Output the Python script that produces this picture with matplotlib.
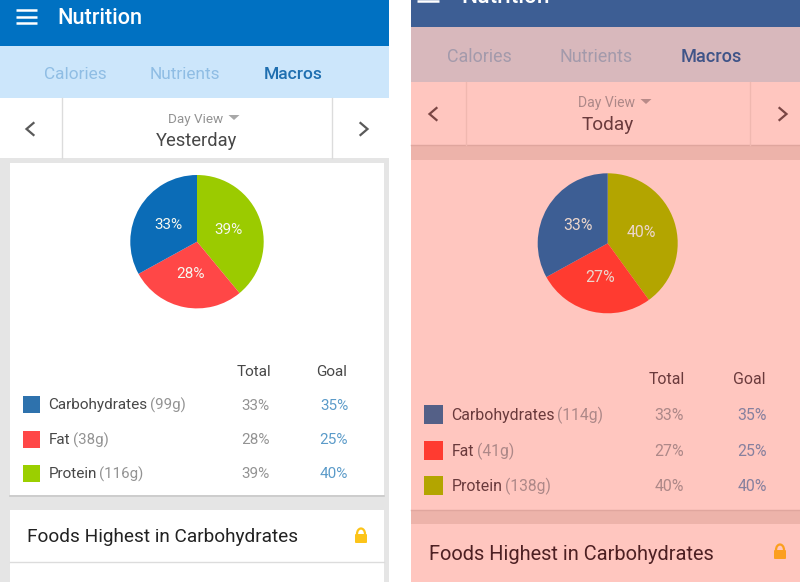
"""Two Nutrition app screens side by side, macros pie and table."""
import matplotlib
matplotlib.use("Agg")
import matplotlib.pyplot as plt
from matplotlib.patches import Rectangle, Polygon, FancyBboxPatch, Arc

plt.rcParams["font.family"] = ["Roboto", "DejaVu Sans"]

TABS = ["Calories", "Nutrients", "Macros"]
NUTRIENTS = ["Carbohydrates", "Fat", "Protein"]

# left screen
DAY_L = "Yesterday"
GRAMS_L = ["(99g)", "(38g)", "(116g)"]
TOTAL_L = [33, 28, 39]
GOAL_L = [35, 25, 40]

# right screen
DAY_R = "Today"
GRAMS_R = ["(114g)", "(41g)", "(138g)"]
TOTAL_R = [33, 27, 40]
GOAL_R = [35, 25, 40]

LEFT = dict(
    x0=0, x1=389, head=46, tabs=98, nav=158, card=163, card_end=495, next_card=510, rule=562,
    c_head="#0071c2", c_tabs="#cce6fb", c_nav="#ffffff", c_band="#e5e5e5", c_card="#ffffff",
    c_line="#dcdcdc", c_tab_off="#8fbde4", c_tab_on="#1f6fb0", c_dark="#474747", c_mid="#939393",
    c_goal="#5b9bc9", c_title="#222222", c_chev="#5a5a5a", c_lock="#fcc419", c_tri="#a8a8a8",
    c_sw=["#2e72ad", "#ff4747", "#9bcf00"], c_pie=["#0b6cb7", "#ff4747", "#9bcb00"],
    c_pie_txt="#f6f8f0",
    title_xy=(57, 17), ham=(16, 37, [9.5, 16.5, 23]), tab_x=[75, 185, 293.5], tab_y=73,
    mid=197, dayview_y=118, tri_x=234, day_y=139, div=[62, 332], chev=[30, 364], chev_y=129,
    pie=(197, 241.7, 66.7), sw=(23, 17), rows=[404, 439, 473], text_x=48.5, head_y=370.5,
    tot_x=253.5, goal_x=332, pct_tot=255.5, pct_goal=334, foods=(27, 536), lock=(361, 536),
    fs=1.0, foods_fs=13.65,
)
RIGHT = dict(
    x0=411, x1=800, head=27, tabs=82, nav=145, card=160, card_end=510, next_card=524, rule=582,
    c_head="#3d5e94", c_tabs="#d8b8bc", c_nav="#ffc6bf", c_band="#edb3aa", c_card="#ffc6bf",
    c_line="#f0b8b0", c_tab_off="#a39aab", c_tab_on="#3f5488", c_dark="#6a3a3c", c_mid="#ad8888",
    c_goal="#86809e", c_title="#4d2023", c_chev="#7a4644", c_lock="#fb9f1e", c_tri="#b88a88",
    c_sw=["#546087", "#ff3b30", "#b3a500"], c_pie=["#3d5e94", "#ff3b30", "#b3a500"],
    c_pie_txt="#ecd6cc",
    title_xy=(461, -5), ham=(417, 439, [-6, 0.5]), tab_x=[479, 596, 711], tab_y=55,
    mid=608, dayview_y=102, tri_x=646, day_y=124, div=[465.5, 750], chev=[433, 783], chev_y=114,
    pie=(607.7, 243.3, 70), sw=(424, 19), rows=[414, 450, 485], text_x=451.5, head_y=378,
    tot_x=667, goal_x=749.5, pct_tot=669, pct_goal=752, foods=(429, 553), lock=(780, 552),
    fs=1.04, foods_fs=14.4,
)
TEXT_DY = 1.5  # roboto sits high with va=center

fig = plt.figure(figsize=(8, 5.82), dpi=100, facecolor="white")
ax = fig.add_axes([0, 0, 1, 1])
ax.set_xlim(0, 800)
ax.set_ylim(582, 0)
ax.axis("off")


def block(x0, x1, y0, y1, color, z=1):
    ax.add_patch(Rectangle((x0, y0), x1 - x0, y1 - y0, fc=color, ec="none", zorder=z))


def label(x, y, s, color, size, ha="center", weight="normal"):
    return ax.text(x, y + TEXT_DY, s, color=color, fontsize=size, ha=ha, va="center",
                   fontweight=weight, zorder=3)


def draw_chevron(x, y, direction, color):
    ax.plot([x - 3.5 * direction, x + 3.5 * direction, x - 3.5 * direction], [y - 6, y, y + 6],
            color=color, lw=1.6, zorder=3, solid_joinstyle="miter")


def draw_lock(x, y, color):
    ax.add_patch(FancyBboxPatch((x - 6, y - 2), 12, 9, boxstyle="round,pad=0,rounding_size=1",
                                fc=color, ec="none", zorder=3))
    ax.add_patch(Arc((x, y - 2), 8, 11, theta1=180, theta2=360, color=color, lw=1.6, zorder=3))


def draw_screen(s, day, grams, total, goal):
    x0, x1 = s["x0"], s["x1"]
    fs = s["fs"]
    block(x0, x1, 0, 582, s["c_band"])
    block(x0, x1, 0, s["head"], s["c_head"])
    block(x0, x1, s["head"], s["tabs"], s["c_tabs"])
    block(x0, x1, s["tabs"], s["nav"], s["c_nav"])
    if x0 == 0:
        # cards are inset on this screen only
        block(10, 384, s["card"], s["card_end"], s["c_card"])
        block(10, 384, s["next_card"], 582, s["c_card"])
        ax.plot([10, 384], [s["rule"]] * 2, color=s["c_line"], lw=1, zorder=2)
        ax.plot([10, 384], [s["card_end"] + 0.5] * 2, color="#c9c9c9", lw=1.2, zorder=2)
    else:
        block(x0, x1, s["card"], s["card_end"], s["c_card"])
        block(x0, x1, s["next_card"], 582, s["c_card"])
        ax.plot([x0, x1], [s["card_end"]] * 2, color="#e0a69e", lw=1, zorder=2)
        ax.plot([x0, x1], [s["nav"]] * 2, color="#e0a69e", lw=1, zorder=2)

    for y in s["ham"][2]:
        ax.plot(s["ham"][:2], [y, y], color="white", lw=1.8, zorder=3, solid_capstyle="butt")
    label(*s["title_xy"], "Nutrition", "white", 15.7 * fs, ha="left", weight="medium")

    for i, (name, tx) in enumerate(zip(TABS, s["tab_x"])):
        active = i == 2
        label(tx, s["tab_y"], name, s["c_tab_on"] if active else s["c_tab_off"],
              12.6 * fs if active else 12.4 * fs, weight="medium" if active else "normal")

    for dx in s["div"]:
        ax.plot([dx, dx], [s["tabs"], s["nav"]], color=s["c_line"], lw=1, zorder=2)
    draw_chevron(s["chev"][0], s["chev_y"], -1, s["c_chev"])
    draw_chevron(s["chev"][1], s["chev_y"], 1, s["c_chev"])

    label(s["mid"] - 1, s["dayview_y"], "Day View", s["c_mid"], 9.7 * fs)
    tx, ty = s["tri_x"], s["dayview_y"] - 1
    ax.add_patch(Polygon([(tx - 5.5, ty - 2), (tx + 5.5, ty - 2), (tx, ty + 3)], fc=s["c_tri"],
                         ec="none", zorder=3))
    label(s["mid"], s["day_y"], day, s["c_dark"], 13.2 * fs)

    # pie goes protein, fat, carbs clockwise from 12 o'clock
    cx, cy, r = s["pie"]
    pie_ax = fig.add_axes([(cx - r) / 800, 1 - (cy + r) / 582, 2 * r / 800, 2 * r / 582])
    order = [2, 1, 0]
    pie_ax.pie([total[i] for i in order], colors=[s["c_pie"][i] for i in order],
               startangle=90, counterclock=False, radius=1, pctdistance=0.5,
               autopct=lambda p: f"{p:.0f}%",
               textprops=dict(color=s["c_pie_txt"], fontsize=11 * fs))
    pie_ax.set_xlim(-1, 1)
    pie_ax.set_ylim(-1, 1)
    pie_ax.patch.set_alpha(0)

    label(s["tot_x"], s["head_y"], "Total", s["c_dark"], 11 * fs)
    label(s["goal_x"], s["head_y"], "Goal", s["c_dark"], 11 * fs)

    sx, sw = s["sw"]
    renderer = fig.canvas.get_renderer()
    for i, y in enumerate(s["rows"]):
        ax.add_patch(Rectangle((sx, y - sw / 2), sw, sw, fc=s["c_sw"][i], ec="none", zorder=3))
        name = label(s["text_x"], y, NUTRIENTS[i], s["c_dark"], 11 * fs, ha="left")
        end = name.get_window_extent(renderer).x1
        label(end + 2.5, y, grams[i], s["c_mid"], 10.8 * fs, ha="left")
        label(s["pct_tot"], y, f"{total[i]}%", s["c_mid"], 11 * fs)
        label(s["pct_goal"], y, f"{goal[i]}%", s["c_goal"], 11 * fs)

    label(*s["foods"], "Foods Highest in Carbohydrates", s["c_title"], s["foods_fs"], ha="left")
    draw_lock(*s["lock"], s["c_lock"])


draw_screen(LEFT, DAY_L, GRAMS_L, TOTAL_L, GOAL_L)
draw_screen(RIGHT, DAY_R, GRAMS_R, TOTAL_R, GOAL_R)

fig.savefig("out.png", dpi=100)
plt.close(fig)
